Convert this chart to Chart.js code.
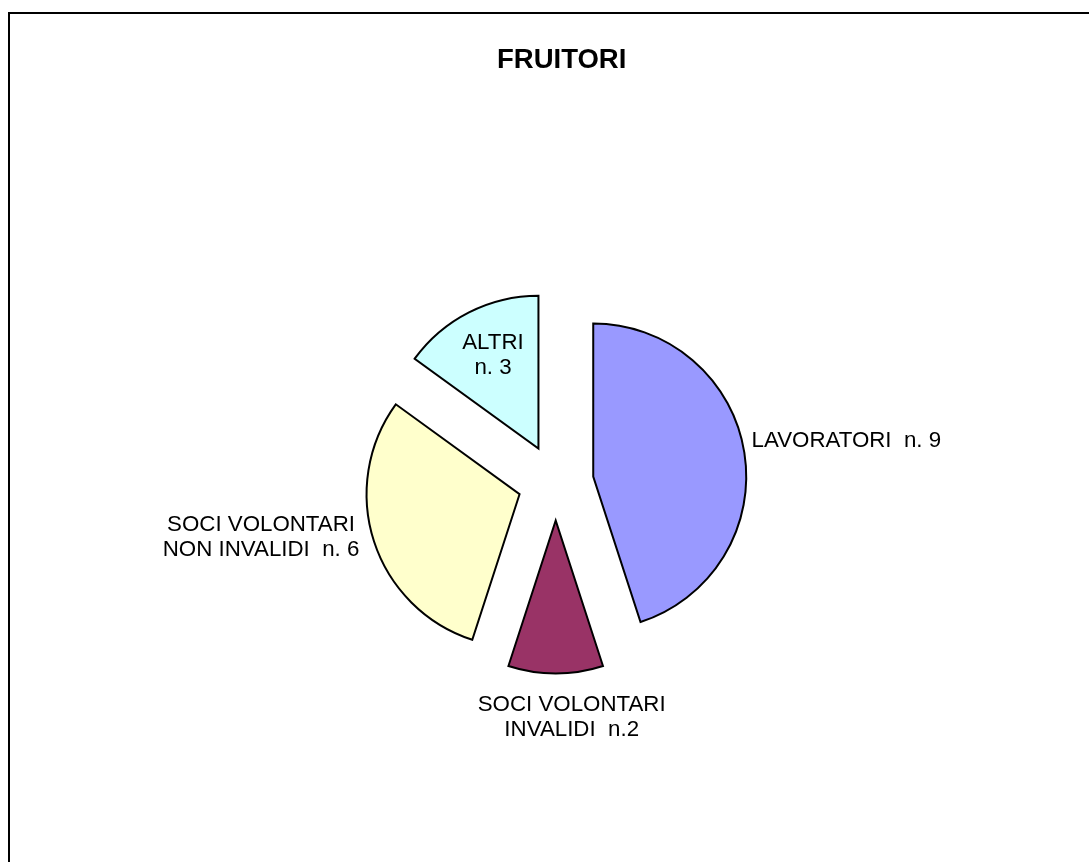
<!DOCTYPE html>
<html>
<head>
<meta charset="utf-8">
<script src="https://cdn.jsdelivr.net/npm/chart.js@4.4.1/dist/chart.umd.min.js"></script>
<style>
  html, body { margin: 0; padding: 0; background: #fff; width: 100%; height: 100%; overflow: hidden; }
  #frame { position: absolute; left: 8px; top: 12px; right: -10px; bottom: -10px; border-left: 2px solid #000; border-top: 2px solid #000; }
  #wrap { position: absolute; left: 0; top: 0; width: 1089px; height: 862px; }
</style>
</head>
<body>
<div id="frame"></div>
<div id="wrap"><canvas id="chart"></canvas></div>
<script>
const title = 'FRUITORI'
const categories = ['LAVORATORI', 'SOCI VOLONTARI INVALIDI', 'SOCI VOLONTARI NON INVALIDI', 'ALTRI']
const counts = [9, 2, 6, 3]
const labelLines = [
    ['LAVORATORI  n. 9'],
    ['SOCI VOLONTARI', 'INVALIDI  n.2'],
    ['SOCI VOLONTARI', 'NON INVALIDI  n. 6'],
    ['ALTRI', 'n. 3'],
]

// styling
const sliceColors = ['#9999FF', '#993366', '#FFFFCC', '#CCFFFF']
const explode = 38
const labelShift = [[102, -14], [16, 42], [-113, -6], [24, 41]]
const labelFont = '22.3px "Liberation Sans", Arial, sans-serif'
const titleFont = 'bold 27.5px "Liberation Sans", Arial, sans-serif'
const lineHeight = 25

// pull every slice out along its mid angle
const explodePlugin = {
    id: 'explode',
    afterDatasetUpdate(chart, args) {
        args.meta.data.forEach(arc => {
            const mid = (arc.startAngle + arc.endAngle) / 2
            arc.x += Math.cos(mid) * explode
            arc.y += Math.sin(mid) * explode
        })
    }
}

const labelPlugin = {
    id: 'sliceLabels',
    afterDatasetsDraw(chart) {
        const { ctx, chartArea } = chart
        const arcs = chart.getDatasetMeta(0).data
        ctx.save()
        ctx.fillStyle = '#000'
        ctx.textAlign = 'center'
        ctx.textBaseline = 'alphabetic'
        ctx.font = labelFont
        arcs.forEach((arc, i) => {
            const mid = (arc.startAngle + arc.endAngle) / 2
            const cx = arc.x + Math.cos(mid) * arc.outerRadius + labelShift[i][0]
            const cy = arc.y + Math.sin(mid) * arc.outerRadius + labelShift[i][1]
            const lines = labelLines[i]
            const first = cy - (lines.length - 1) * lineHeight / 2 + 8
            lines.forEach((t, j) => ctx.fillText(t, cx, first + j * lineHeight))
        })
        ctx.font = titleFont
        ctx.fillText(title, (chartArea.left + chartArea.right) / 2 + 6, 68)
        ctx.restore()
    }
}

new Chart(document.getElementById('chart'), {
    type: 'pie',
    data: {
        labels: categories,
        datasets: [{
            data: counts,
            backgroundColor: sliceColors,
            borderColor: '#000',
            borderWidth: 2,
            borderJoinStyle: 'miter',
        }]
    },
    options: {
        responsive: true,
        maintainAspectRatio: false,
        animation: false,
        events: [],
        radius: 153,
        layout: { padding: { left: 22.4, right: 0, top: 103, bottom: 0 } },
        plugins: {
            legend: { display: false },
            tooltip: { enabled: false },
            title: { display: false },
        }
    },
    plugins: [explodePlugin, labelPlugin]
})
</script>
</body>
</html>
